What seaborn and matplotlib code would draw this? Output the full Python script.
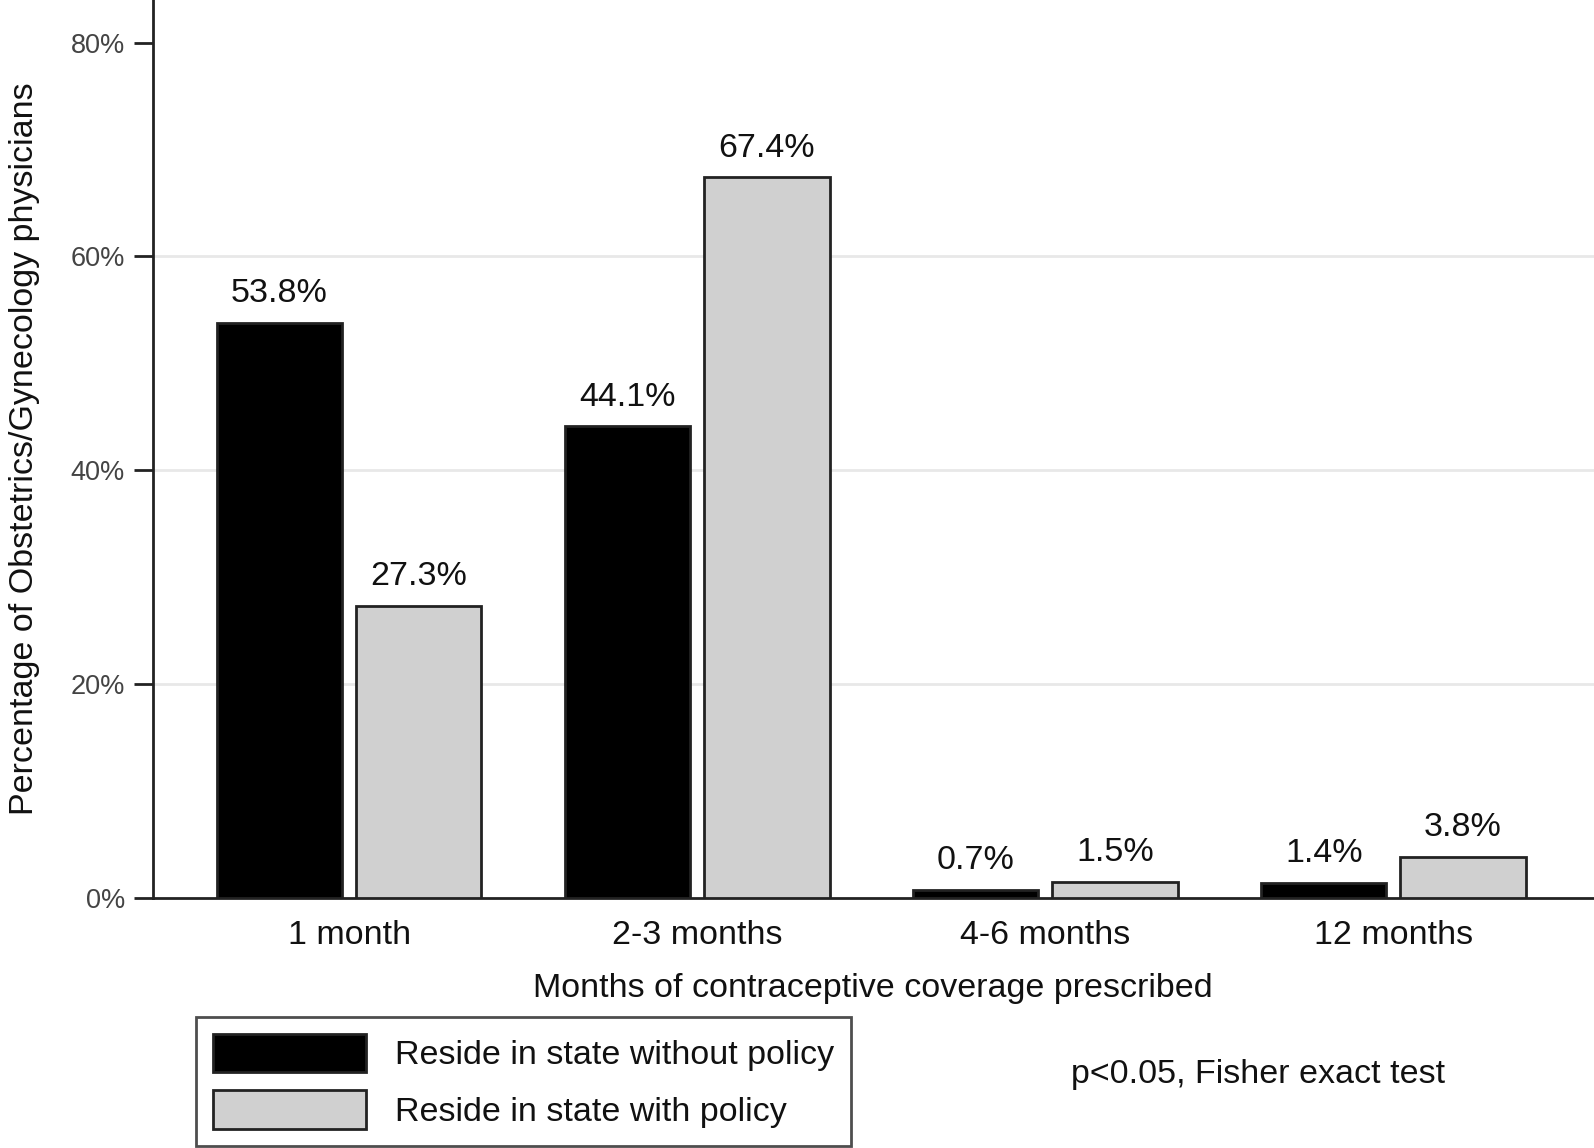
import numpy as np
import pandas as pd
import seaborn as sns
import matplotlib.pyplot as plt
from matplotlib.patches import Patch

categories = ['1 month', '2-3 months', '4-6 months', '12 months']
groups = ['Reside in state without policy', 'Reside in state with policy']
without_policy = [53.8, 44.1, 0.7, 1.4]
with_policy = [27.3, 67.4, 1.5, 3.8]
yticks = [0, 20, 40, 60, 80]

df = pd.DataFrame({
    'category': categories * 2,
    'group': [groups[0]] * 4 + [groups[1]] * 4,
    'value': without_policy + with_policy,
})

sns.set_style('white')
plt.rcParams['font.family'] = ['Arial', 'Liberation Sans', 'DejaVu Sans']

FS = 24.5

fig = plt.figure(figsize=(15.94, 11.48), dpi=100)
ax = fig.add_axes([0.0957, 0.218, 0.904, 0.782])

colors = ['black', '#d0d0d0']
sns.barplot(data=df, x='category', y='value', hue='group', palette=colors,
            width=0.8, gap=0.1, edgecolor='#222222', linewidth=2,
            legend=False, ax=ax, zorder=3)

for g in [20, 40, 60]:
    ax.axhline(g, color='#e8e8e8', lw=2, zorder=0)

for cont in ax.containers:
    labels = [f'{v:.1f}%' for v in cont.datavalues]
    ax.bar_label(cont, labels=labels, padding=10, fontsize=FS, color='#111111')

ax.set_ylim(0, 84)
ax.set_xlim(-0.565, 3.575)
ax.set_yticks(yticks)
ax.set_yticklabels([f'{t}%' for t in yticks], fontsize=19.5, color='#444444')
ax.tick_params(axis='y', length=14, width=2, color='#222222', pad=6, left=True)
ax.tick_params(axis='x', length=0, labelsize=FS, pad=16, labelcolor='#111111')
for s in ['top', 'right']:
    ax.spines[s].set_visible(False)
for s in ['left', 'bottom']:
    ax.spines[s].set_linewidth(2)
    ax.spines[s].set_color('#222222')

ax.set_xlabel('Months of contraceptive coverage prescribed', fontsize=FS,
              color='#111111', labelpad=16)
ax.set_ylabel('Percentage of Obstetrics/Gynecology physicians', fontsize=FS,
              color='#111111', labelpad=22)

handles = [Patch(facecolor=c, edgecolor='#222222', linewidth=2) for c in colors]
leg = fig.legend(handles, groups, loc='lower left', bbox_to_anchor=(0.123, 0.002),
                 fontsize=FS, frameon=True, fancybox=False, edgecolor='#222222',
                 handlelength=4.5, handleheight=1.35, handletextpad=0.85,
                 borderpad=0.5, labelspacing=0.55, borderaxespad=0)
leg.get_frame().set_linewidth(2)
for t in leg.get_texts():
    t.set_color('#111111')

fig.text(0.672, 0.064, 'p<0.05, Fisher exact test', fontsize=FS,
         color='#111111', va='center')

fig.savefig('out.png', dpi=100)
